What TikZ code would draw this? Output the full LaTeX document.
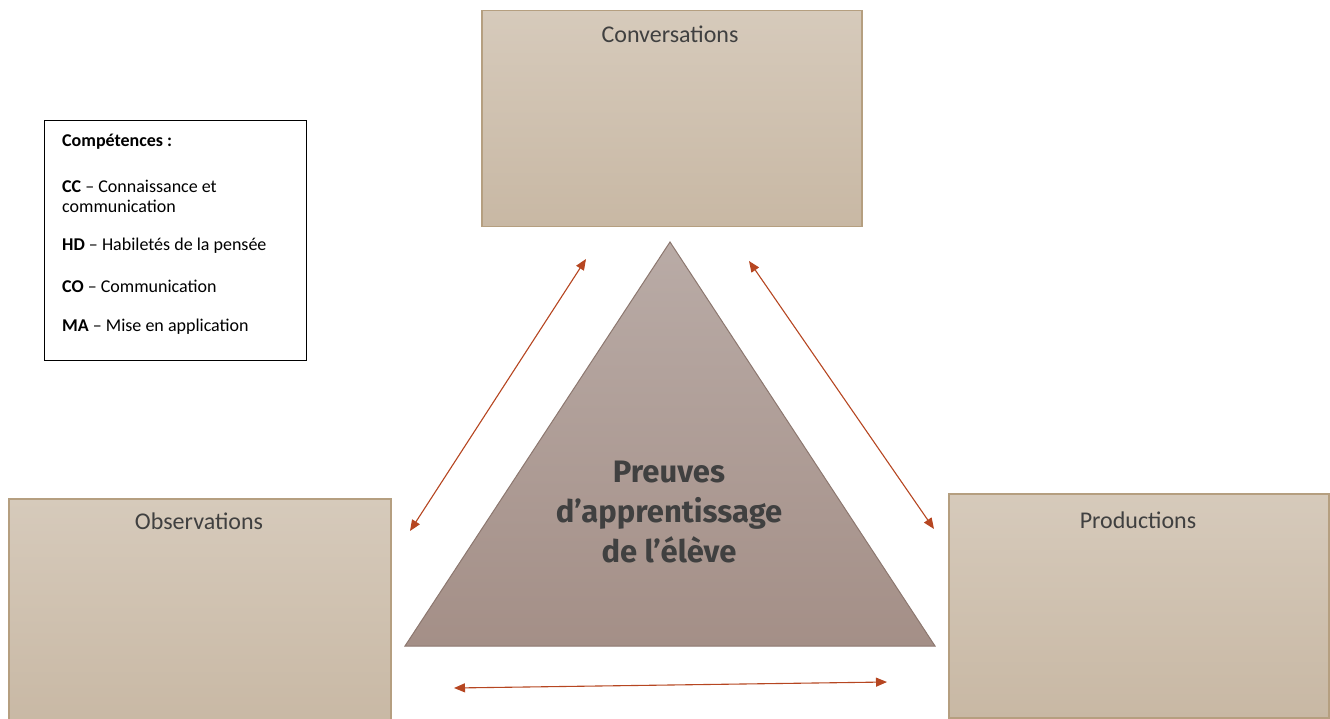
\documentclass[tikz,border=0pt]{standalone}
\usepackage{fontspec}
\setmainfont{Carlito}
\newfontfamily\boxfont{Carlito}
\newfontfamily\titlefont{Fira Sans}
\usetikzlibrary{arrows.meta}
\definecolor{boxtop}{HTML}{D6CABB}
\definecolor{boxbot}{HTML}{C8B8A4}
\definecolor{boxline}{HTML}{B59F80}
\definecolor{tritop}{HTML}{B9ABA6}
\definecolor{tribot}{HTML}{A48F87}
\definecolor{triline}{HTML}{8C776F}
\definecolor{arrowc}{HTML}{B64621}
\definecolor{txt}{HTML}{404040}
\tikzset{
  box/.style={draw=boxline, line width=1.5pt, top color=boxtop, bottom color=boxbot, anchor=north west, inner sep=0pt},
  boxlabel/.style={font=\boxfont\fontsize{24}{28}\selectfont, text=txt, anchor=center},
  link/.style={draw=arrowc, line width=1.1pt, {Triangle[length=11pt,width=9pt]}-{Triangle[length=11pt,width=9pt]}},
  legend/.style={draw=black, line width=1.2pt, fill=white, anchor=north west, minimum width=262pt, minimum height=240pt, inner sep=0pt},
  legtxt/.style={font=\fontsize{18}{21}\selectfont, text=black, anchor=west, inner sep=0pt}
}
\begin{document}
\begin{tikzpicture}[x=1pt,y=-1pt]
\useasboundingbox (0,0) rectangle (1330,719);
% boxes
\node[box, minimum width=380pt, minimum height=216pt] (conv) at (481,10) {};
\node[box, minimum width=382pt, minimum height=230pt] (obs) at (8,498) {};
\node[box, minimum width=380pt, minimum height=224pt] (prod) at (948,493) {};
\node[boxlabel] (convt) at (670,34) {Conversations};
\node[boxlabel] (obst) at (199,521) {Observations};
\node[boxlabel] (prodt) at (1138,520) {Productions};
% triangle
\coordinate (apex) at (670,242);
\coordinate (bl) at (405,646);
\coordinate (br) at (935,646);
\shade[top color=tritop, bottom color=tribot] (apex) -- (br) -- (bl) -- cycle;
\draw[triline, line width=1pt, line join=miter] (apex) -- (br) -- (bl) -- cycle;
\node[font=\titlefont\bfseries\fontsize{31}{40}\selectfont, text=txt, align=center] (tri) at (669,512) {Preuves\\d’apprentissage\\de l’élève};
% legend
\node[legend] (leg) at (44,120) {};
\node[legtxt] (l0) at (62,142) {\textbf{Compétences :}};
\node[legtxt] (l1) at (62,186) {\textbf{CC} – Connaissance et};
\node[legtxt] (l1b) at (62,206) {communication};
\node[legtxt] (l2) at (62,246) {\textbf{HD} – Habiletés de la pensée};
\node[legtxt] (l3) at (62,286) {\textbf{CO} – Communication};
\node[legtxt] (l4) at (62,327) {\textbf{MA} – Mise en application};
% arrows
\coordinate (a1) at (410,531);
\coordinate (a2) at (586,259);
\coordinate (b1) at (749,261);
\coordinate (b2) at (934,529);
\coordinate (c1) at (454,688);
\coordinate (c2) at (887,682);
\draw[link] (a1) -- (a2);
\draw[link] (b1) -- (b2);
\draw[link] (c1) -- (c2);
\end{tikzpicture}
\end{document}
